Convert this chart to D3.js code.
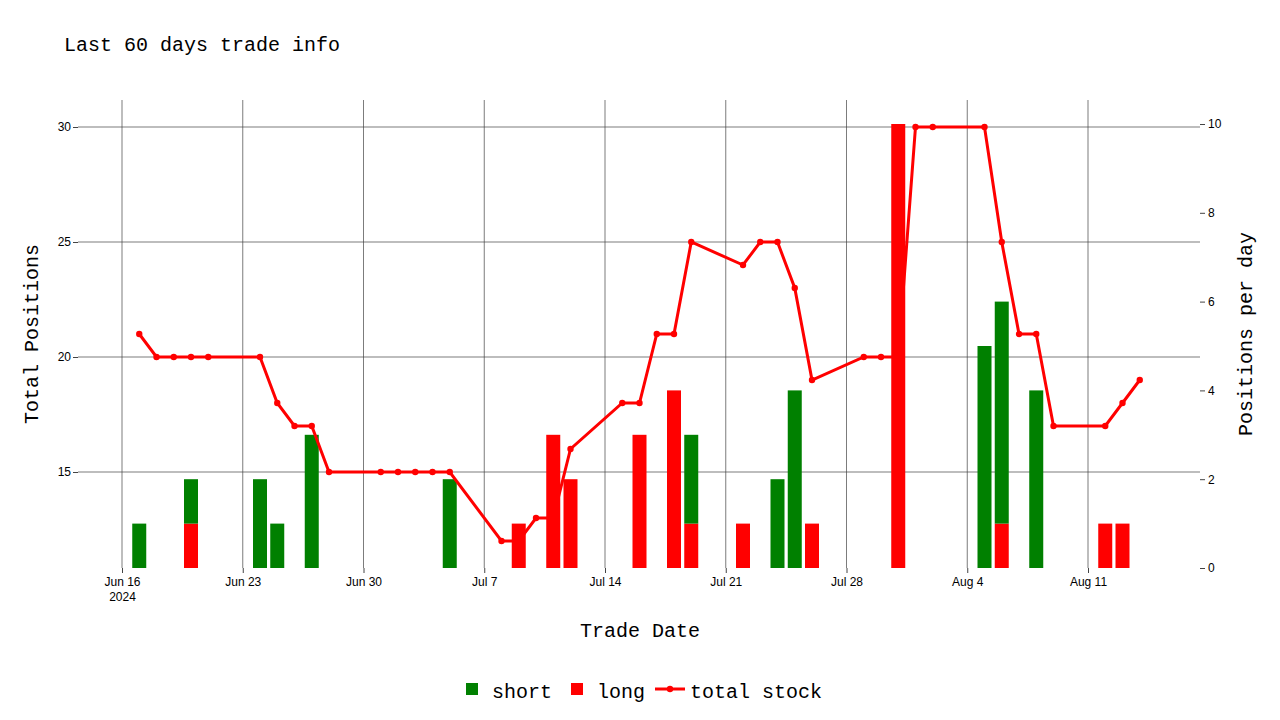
<!DOCTYPE html>
<html>
<head>
<meta charset="utf-8" />
<script src="https://cdn.jsdelivr.net/npm/d3@7"></script>
<style>
  body { margin: 0; background: #fff; }
  .tick text { font-family: "Liberation Sans", Arial, sans-serif; font-size: 12px; fill: #000; }
  .mono { font-family: "Liberation Mono", "DejaVu Sans Mono", monospace; }
</style>
</head>
<body>
<svg id="chart" width="1280" height="720"></svg>
<script>
// total stock line
var stockDates = ["2024-06-17","2024-06-18","2024-06-19","2024-06-20","2024-06-21","2024-06-24","2024-06-25","2024-06-26","2024-06-27","2024-06-28",
  "2024-07-01","2024-07-02","2024-07-03","2024-07-04","2024-07-05","2024-07-08","2024-07-09","2024-07-10","2024-07-11","2024-07-12",
  "2024-07-15","2024-07-16","2024-07-17","2024-07-18","2024-07-19","2024-07-22","2024-07-23","2024-07-24","2024-07-25","2024-07-26",
  "2024-07-29","2024-07-30","2024-07-31","2024-08-01","2024-08-02","2024-08-05","2024-08-06","2024-08-07","2024-08-08","2024-08-09",
  "2024-08-12","2024-08-13","2024-08-14"];
var stockValues = [21,20,20,20,20,20,18,17,17,15,
  15,15,15,15,15,12,12,13,13,16,
  18,18,21,21,25,24,25,25,23,19,
  20,20,20,30,30,30,25,21,21,17,
  17,18,19];

// per-day bars
var barDates = ["2024-06-17","2024-06-20","2024-06-24","2024-06-25","2024-06-27","2024-07-05","2024-07-09","2024-07-11","2024-07-12","2024-07-16",
  "2024-07-18","2024-07-19","2024-07-22","2024-07-24","2024-07-25","2024-07-26","2024-07-31","2024-08-05","2024-08-06","2024-08-08",
  "2024-08-12","2024-08-13"];
var longValues  = [0,1,0,0,0,0,1,3,2,3, 4,1,1,0,0,1,10,0,1,0, 1,1];
var shortValues = [1,1,2,1,3,2,0,0,0,0, 0,2,0,2,4,0,0,5,5,4, 0,0];

var tickDates = ["2024-06-16","2024-06-23","2024-06-30","2024-07-07","2024-07-14","2024-07-21","2024-07-28","2024-08-04","2024-08-11"];
var tickLabels = ["Jun 16","Jun 23","Jun 30","Jul 7","Jul 14","Jul 21","Jul 28","Aug 4","Aug 11"];
var leftTicks = [15,20,25,30];
var rightTicks = [0,2,4,6,8,10];

var parse = d3.timeParse("%Y-%m-%d");
var L = 78, R = 1200, T = 100, B = 568;
var day = (1088 - 122) / 56;
var x = d3.scaleTime()
  .domain([parse("2024-06-16"), parse("2024-08-11")])
  .range([122, 1088]);
var yL = d3.scaleLinear().domain([30 - (B - 127) / 23, 30]).range([B, 127]);
var yR = d3.scaleLinear().domain([0, 10]).range([B, 124]);

var svg = d3.select("#chart");

// grid
svg.append("g").selectAll("line").data(tickDates).join("line")
  .attr("x1", d => x(parse(d))).attr("x2", d => x(parse(d)))
  .attr("y1", T).attr("y2", B).attr("stroke", "#444").attr("stroke-width", 0.7);
svg.append("g").selectAll("line").data(leftTicks).join("line")
  .attr("x1", L).attr("x2", R).attr("y1", d => yL(d)).attr("y2", d => yL(d))
  .attr("stroke", "#444").attr("stroke-width", 0.7);

// axes
var xAxis = svg.append("g").attr("transform", "translate(0," + B + ")")
  .call(d3.axisBottom(x).tickValues(tickDates.map(parse)).tickFormat((d, i) => tickLabels[i]).tickSize(5).tickPadding(4));
xAxis.select(".domain").remove();
xAxis.selectAll(".tick line").attr("stroke", "#444");
xAxis.selectAll(".tick").filter((d, i) => i === 0).select("text")
  .append("tspan").attr("x", 0).attr("dy", "1.25em").text("2024");

var yAxisL = svg.append("g").attr("transform", "translate(" + L + ",0)")
  .call(d3.axisLeft(yL).tickValues(leftTicks).tickSize(5).tickPadding(2));
yAxisL.select(".domain").remove();
yAxisL.selectAll(".tick line").attr("stroke", "#444");

var yAxisR = svg.append("g").attr("transform", "translate(" + R + ",0)")
  .call(d3.axisRight(yR).tickValues(rightTicks).tickSize(5).tickPadding(3));
yAxisR.select(".domain").remove();
yAxisR.selectAll(".tick line").attr("stroke", "#444");

// bars
var bw = 14;
var bars = barDates.map((d, i) => ({ date: parse(d), long: longValues[i], short: shortValues[i] }));
svg.append("g").selectAll("rect").data(bars.filter(b => b.long > 0)).join("rect")
  .attr("x", d => x(d.date) - bw / 2).attr("width", bw)
  .attr("y", d => yR(d.long)).attr("height", d => yR(0) - yR(d.long))
  .attr("fill", "#ff0000");
svg.append("g").selectAll("rect").data(bars.filter(b => b.short > 0)).join("rect")
  .attr("x", d => x(d.date) - bw / 2).attr("width", bw)
  .attr("y", d => yR(d.long + d.short)).attr("height", d => yR(d.long) - yR(d.long + d.short))
  .attr("fill", "#008000");

// line
var pts = stockDates.map((d, i) => [x(parse(d)), yL(stockValues[i])]);
svg.append("path").attr("d", d3.line()(pts)).attr("fill", "none")
  .attr("stroke", "#ff0000").attr("stroke-width", 3);
svg.append("g").selectAll("circle").data(pts).join("circle")
  .attr("cx", d => d[0]).attr("cy", d => d[1]).attr("r", 3.2).attr("fill", "#ff0000");

// text
svg.append("text").attr("class", "mono").attr("x", 64).attr("y", 51).attr("font-size", 20).text("Last 60 days trade info");
svg.append("text").attr("class", "mono").attr("x", 640).attr("y", 637).attr("text-anchor", "middle").attr("font-size", 20).text("Trade Date");
svg.append("text").attr("class", "mono").attr("transform", "translate(38,334) rotate(-90)").attr("text-anchor", "middle").attr("font-size", 20).text("Total Positions");
svg.append("text").attr("class", "mono").attr("transform", "translate(1252,334) rotate(-90)").attr("text-anchor", "middle").attr("font-size", 20).text("Positions per day");

// legend
var lg = svg.append("g").attr("class", "mono").attr("font-size", 20);
lg.append("rect").attr("x", 466).attr("y", 683).attr("width", 12).attr("height", 12).attr("fill", "#008000");
lg.append("text").attr("x", 492).attr("y", 698).text("short");
lg.append("rect").attr("x", 571).attr("y", 683).attr("width", 12).attr("height", 12).attr("fill", "#ff0000");
lg.append("text").attr("x", 597).attr("y", 698).text("long");
lg.append("line").attr("x1", 655).attr("x2", 685).attr("y1", 689).attr("y2", 689).attr("stroke", "#ff0000").attr("stroke-width", 3);
lg.append("circle").attr("cx", 670).attr("cy", 689).attr("r", 3.2).attr("fill", "#ff0000");
lg.append("text").attr("x", 690).attr("y", 698).text("total stock");
</script>
</body>
</html>
